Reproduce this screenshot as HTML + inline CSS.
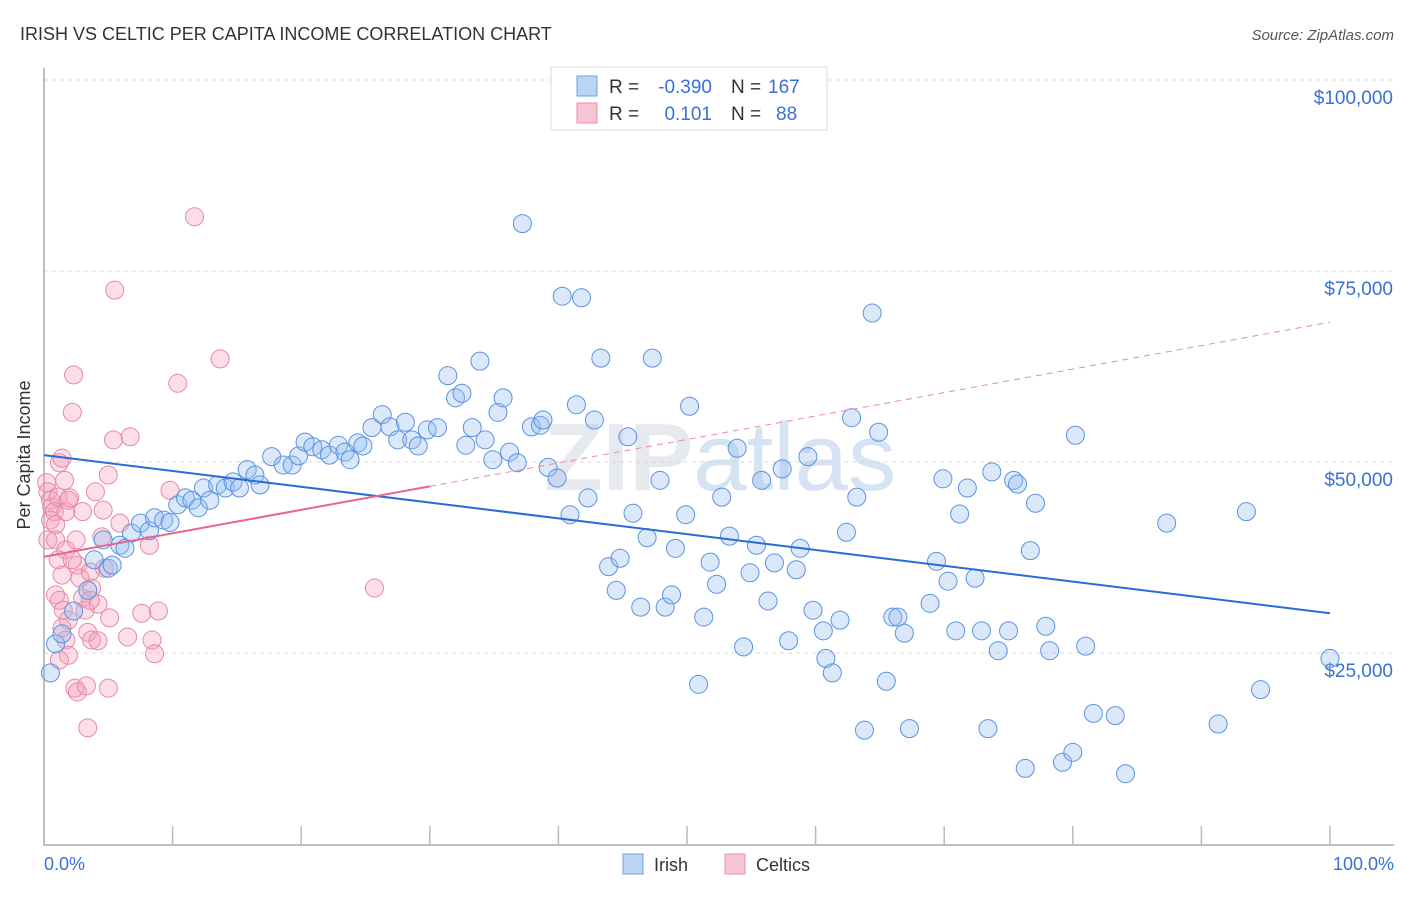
<!DOCTYPE html>
<html><head><meta charset="utf-8"><style>
body{margin:0;background:#fff;font-family:"Liberation Sans",sans-serif;}
svg text{font-family:"Liberation Sans",sans-serif;}
</style></head><body>
<svg id="chart" width="1406" height="892">
<text x="20" y="40" font-size="18" fill="#333">IRISH VS CELTIC PER CAPITA INCOME CORRELATION CHART</text>
<text x="1394" y="40" font-size="15" fill="#555" font-style="italic" text-anchor="end">Source: ZipAtlas.com</text>
<text x="720" y="490" font-size="96" fill="#e6e9ee" text-anchor="middle" font-family="Liberation Serif" font-weight="bold">ZIP<tspan fill="#d5e3f3" font-family="Liberation Sans" font-weight="normal">atlas</tspan></text>
<g id="grid"></g>
<g id="axes"></g>
<g id="pinkpts"></g>
<g id="bluepts"></g>
<g id="lines"></g>
<text x="30" y="455" font-size="18" fill="#333" text-anchor="middle" transform="rotate(-90 30 455)">Per Capita Income</text>
<text x="44" y="870" font-size="18" fill="#3a6fd8">0.0%</text>
<text x="1394" y="870" font-size="18" fill="#3a6fd8" text-anchor="end">100.0%</text>
<g>
<rect x="551" y="67" width="276" height="63" fill="#fff" stroke="#ddd"/>
<rect x="577" y="76" width="20" height="20" fill="#bcd4f4" stroke="#6fa0e6"/>
<rect x="577" y="103" width="20" height="20" fill="#f7c5d3" stroke="#ea8fab"/>
<text x="609" y="93" font-size="19" fill="#333">R =</text>
<text x="712" y="93" font-size="19" fill="#3a6fd8" text-anchor="end">-0.390</text>
<text x="731" y="93" font-size="19" fill="#333">N =</text>
<text x="768" y="93" font-size="19" fill="#3a6fd8">167</text>
<text x="609" y="120" font-size="19" fill="#333">R =</text>
<text x="712" y="120" font-size="19" fill="#3a6fd8" text-anchor="end">0.101</text>
<text x="731" y="120" font-size="19" fill="#333">N =</text>
<text x="776" y="120" font-size="19" fill="#3a6fd8">88</text>
</g>
<g>
<rect x="623" y="854" width="20" height="20" fill="#bcd4f4" stroke="#6fa0e6"/>
<text x="654" y="871" font-size="18" fill="#333">Irish</text>
<rect x="725" y="854" width="20" height="20" fill="#f7c5d3" stroke="#ea8fab"/>
<text x="756" y="871" font-size="18" fill="#333">Celtics</text>
</g>
</svg>
<script>
const yTicks=[25000,50000,75000,100000];
const yTickLabels=["$25,000","$50,000","$75,000","$100,000"];
const irishX=[0.5,0.9,1.4,2.3,3.4,3.9,4.6,5.0,5.3,5.9,6.3,6.8,7.5,8.2,8.6,9.3,9.8,10.4,11.0,11.5,12.0,12.4,12.9,13.5,14.1,14.7,15.2,15.8,16.4,16.8,17.7,18.6,19.3,19.8,20.3,20.9,21.6,22.2,22.9,23.4,23.8,24.4,24.8,25.5,26.3,26.9,27.5,28.1,28.6,29.1,29.8,30.6,31.4,32.0,32.5,32.8,33.3,33.9,34.3,34.9,35.3,35.7,36.2,36.8,37.2,37.9,38.6,38.8,39.2,39.9,40.3,40.9,41.8,41.4,42.3,42.8,43.3,43.9,44.5,44.8,45.4,45.8,46.4,46.9,47.3,47.9,48.3,48.8,49.1,49.9,50.2,50.9,51.3,51.8,52.3,52.7,53.3,53.9,54.4,54.9,55.4,55.8,56.3,56.8,57.4,57.9,58.5,58.8,59.4,59.8,60.6,60.8,61.3,61.9,62.4,62.8,63.2,63.8,64.4,64.9,65.5,66.0,66.4,66.9,67.3,68.9,69.4,69.9,70.3,70.9,71.2,71.8,72.4,72.9,73.4,73.7,74.2,75.0,75.4,75.7,76.3,76.7,77.1,77.9,78.2,79.2,80.0,80.2,81.0,81.6,83.3,84.1,87.3,91.3,93.5,94.6,100];
const irishY=[22.4,26.2,27.5,30.5,33.2,37.2,39.8,36.1,36.5,39.1,38.7,40.7,42.0,41.0,42.7,42.4,42.1,44.4,45.3,45.0,44.0,46.6,45.0,47.0,46.6,47.4,46.6,49.0,48.3,47.0,50.7,49.6,49.6,50.8,52.6,52.0,51.6,50.9,52.2,51.3,50.3,52.5,52.1,54.5,56.2,54.6,52.9,55.2,52.9,52.1,54.2,54.5,61.3,58.4,59.0,52.2,54.5,63.2,52.9,50.3,56.5,58.4,51.3,49.9,81.2,54.6,54.8,55.5,49.3,47.9,71.7,43.1,71.5,57.5,45.3,55.5,63.6,36.3,33.2,37.4,53.3,43.3,31.0,40.1,63.6,47.6,31.0,32.6,38.7,43.1,57.3,20.9,29.7,36.9,34.0,45.4,40.3,51.8,25.8,35.5,39.1,47.6,31.8,36.8,49.1,26.6,35.9,38.7,50.7,30.6,27.9,24.3,22.4,29.3,40.8,55.8,45.4,14.9,69.5,53.9,21.3,29.7,29.7,27.6,15.1,31.5,37.0,47.8,34.4,27.9,43.2,46.6,34.8,27.9,15.1,48.7,25.3,27.9,47.6,47.1,9.9,38.4,44.6,28.5,25.3,10.7,12.0,53.5,25.9,17.1,16.8,9.2,42.0,15.7,43.5,20.2,24.3];
const celticX=[0.2,0.3,0.5,0.6,0.8,0.5,0.9,0.3,0.9,1.2,1.4,1.1,1.6,1.7,1.9,2.0,1.7,1.1,1.4,0.9,1.2,1.5,1.9,1.4,1.7,1.9,1.2,2.3,2.2,2.5,2.6,2.8,3.0,3.2,3.6,3.7,3.4,3.7,4.0,4.2,4.5,4.6,4.7,5.1,5.0,5.4,5.5,5.9,6.7,6.5,4.2,2.4,2.6,3.3,5.0,3.4,7.6,8.2,8.4,8.6,8.9,9.8,10.4,11.7,13.7,25.7,3.0,2.2,3.6];
const celticY=[47.3,46.1,45.0,44.1,43.5,42.4,41.8,39.8,39.8,49.9,50.5,45.4,47.6,43.5,45.0,45.3,38.5,37.2,35.2,32.6,31.9,30.6,29.3,28.3,26.7,24.7,24.1,61.4,56.5,39.8,36.5,34.8,32.2,30.6,35.6,33.5,27.7,26.7,46.1,31.4,40.2,43.7,36.1,29.6,48.3,52.9,72.5,42.0,53.3,27.1,26.6,20.4,19.9,20.7,20.4,15.2,30.2,39.1,26.7,24.9,30.5,46.3,60.3,82.1,63.5,33.5,43.5,37.2,31.9];
const irishTrend=[50.9,30.2];
const celticTrend=[37.6,68.3];
const celticSolidEnd=30;
const NS="http://www.w3.org/2000/svg";
function xs(p){return 44+p*12.86;}
function ys(k){return 653-(k-25)*7.64;}
function mk(tag,attrs,parent){const e=document.createElementNS(NS,tag);for(const a in attrs)e.setAttribute(a,attrs[a]);parent.appendChild(e);return e;}
const grid=document.getElementById('grid');
yTicks.forEach((v,i)=>{
 const y=ys(v/1000);
 const l=mk('line',{x1:44,x2:1394,y1:y,y2:y,stroke:'#d8d8d8','stroke-dasharray':'4,4'},grid);
 
 
 const t=mk('text',{x:1393,y:y+24,'font-size':19,fill:'#3a6fd8','text-anchor':'end'},grid);
 t.textContent=yTickLabels[i];
 
 
});
const axes=document.getElementById('axes');
const ax=mk('path',{d:'M44,68 V845 H1394',fill:'none',stroke:'#aaa','stroke-width':1.5},axes);


for(let i=1;i<=10;i++){
 const tk=mk('line',{x1:xs(i*10),x2:xs(i*10),y1:826,y2:845,stroke:'#bbb','stroke-width':1.5},axes);
 
 
}
const pp=document.getElementById('pinkpts');
celticX.forEach((x,i)=>{
 const c=mk('circle',{cx:xs(x),cy:ys(celticY[i]),r:9,fill:'rgba(244,160,187,0.35)',stroke:'#e889a7','stroke-width':1},pp);
 
 
});
const bp=document.getElementById('bluepts');
irishX.forEach((x,i)=>{
 const c=mk('circle',{cx:xs(x),cy:ys(irishY[i]),r:9,fill:'rgba(150,190,240,0.35)',stroke:'#5b93e0','stroke-width':1},bp);
 
 
});
const lg=document.getElementById('lines');
const bl=mk('line',{x1:xs(0),y1:ys(irishTrend[0]),x2:xs(100),y2:ys(irishTrend[1]),stroke:'#2a6bd6','stroke-width':2},lg);


const cAt=p=>celticTrend[0]+(celticTrend[1]-celticTrend[0])*p/100;
const pd=mk('line',{x1:xs(celticSolidEnd),y1:ys(cAt(celticSolidEnd)),x2:xs(100),y2:ys(cAt(100)),stroke:'#e889a7','stroke-width':1,'stroke-dasharray':'6,5'},lg);


const ps=mk('line',{x1:xs(0),y1:ys(cAt(0)),x2:xs(celticSolidEnd),y2:ys(cAt(celticSolidEnd)),stroke:'#e8648f','stroke-width':2},lg);


</script>
</body></html>
